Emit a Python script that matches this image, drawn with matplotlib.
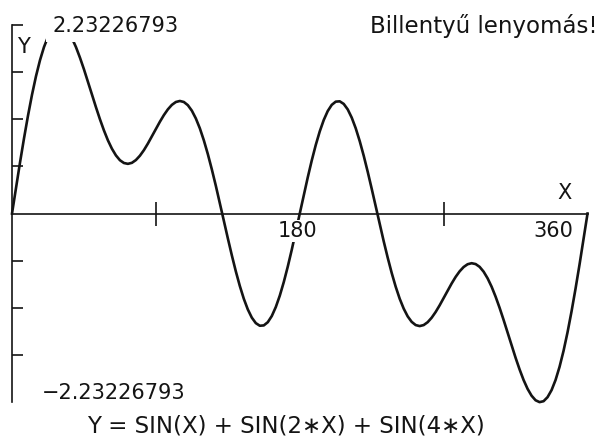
import matplotlib.pyplot as plt

# X in degrees (2.5 degree steps), Y
# Y = SIN(X) + SIN(2*X) + SIN(4*X)
x_deg = [0, 2.5, 5, 7.5, 10, 12.5, 15, 17.5, 20, 22.5, 25, 27.5, 30, 32.5, 35, 37.5,
         40, 42.5, 45, 47.5, 50, 52.5, 55, 57.5, 60, 62.5, 65, 67.5, 70, 72.5, 75, 77.5,
         80, 82.5, 85, 87.5, 90, 92.5, 95, 97.5, 100, 102.5, 105, 107.5, 110, 112.5, 115, 117.5,
         120, 122.5, 125, 127.5, 130, 132.5, 135, 137.5, 140, 142.5, 145, 147.5, 150, 152.5, 155, 157.5,
         160, 162.5, 165, 167.5, 170, 172.5, 175, 177.5, 180, 182.5, 185, 187.5, 190, 192.5, 195, 197.5,
         200, 202.5, 205, 207.5, 210, 212.5, 215, 217.5, 220, 222.5, 225, 227.5, 230, 232.5, 235, 237.5,
         240, 242.5, 245, 247.5, 250, 252.5, 255, 257.5, 260, 262.5, 265, 267.5, 270, 272.5, 275, 277.5,
         280, 282.5, 285, 287.5, 290, 292.5, 295, 297.5, 300, 302.5, 305, 307.5, 310, 312.5, 315, 317.5,
         320, 322.5, 325, 327.5, 330, 332.5, 335, 337.5, 340, 342.5, 345, 347.5, 350, 352.5, 355, 357.5,
         360]
y_val = [0.000, 0.304, 0.603, 0.889, 1.158, 1.405, 1.625, 1.814, 1.970, 2.090, 2.173, 2.221, 2.232, 2.210, 2.156, 2.075,
         1.970, 1.845, 1.707, 1.560, 1.409, 1.259, 1.116, 0.984, 0.866, 0.767, 0.688, 0.631, 0.598, 0.588, 0.600, 0.633,
         0.684, 0.750, 0.828, 0.913, 1.000, 1.086, 1.165, 1.233, 1.286, 1.320, 1.332, 1.320, 1.282, 1.217, 1.125, 1.008,
         0.866, 0.703, 0.522, 0.328, 0.123, -0.085, -0.293, -0.494, -0.684, -0.857, -1.009, -1.135, -1.232, -1.297, -1.328, -1.324,
         -1.286, -1.213, -1.107, -0.972, -0.811, -0.628, -0.428, -0.217, 0.000, 0.217, 0.428, 0.628, 0.811, 0.972, 1.107, 1.213,
         1.286, 1.324, 1.328, 1.297, 1.232, 1.135, 1.009, 0.857, 0.684, 0.494, 0.293, 0.085, -0.123, -0.328, -0.522, -0.703,
         -0.866, -1.008, -1.125, -1.217, -1.282, -1.320, -1.332, -1.320, -1.286, -1.233, -1.165, -1.086, -1.000, -0.913, -0.828, -0.750,
         -0.684, -0.633, -0.600, -0.588, -0.598, -0.631, -0.688, -0.767, -0.866, -0.984, -1.116, -1.259, -1.409, -1.560, -1.707, -1.845,
         -1.970, -2.075, -2.156, -2.210, -2.232, -2.221, -2.173, -2.090, -1.970, -1.814, -1.625, -1.405, -1.158, -0.889, -0.603, -0.304,
         0.000]

y_top_label = "2.23226793"
y_bot_label = "\u22122.23226793"
x_ticks = [90, 270]
y_ticks = [-1.674, -1.116, -0.558, 0.558, 1.116, 1.674, 2.232]
y_range = 2.232

W, H = 600, 441
ink = "#141414"
plt.rcParams['font.family'] = ['DejaVu Sans']

fig = plt.figure(figsize=(W / 100, H / 100), dpi=100)
ax = fig.add_axes([0, 0, 1, 1])
ax.set_xlim(-7.51, 367.8)
ax.set_ylim(-2.692, 2.527)

ax.plot(x_deg, y_val, color=ink, lw=1.9, solid_joinstyle='round', zorder=2)

# plotter style axes through the origin
for s in ['top', 'right']:
    ax.spines[s].set_visible(False)
ax.spines['left'].set_position(('data', 0))
ax.spines['bottom'].set_position(('data', 0))
ax.spines['left'].set_bounds(-y_range, y_range)
ax.spines['bottom'].set_bounds(0, 360)
for s in ['left', 'bottom']:
    ax.spines[s].set_color(ink)
    ax.spines[s].set_linewidth(1.2)

ax.set_xticks(x_ticks)
ax.set_yticks(y_ticks)
ax.tick_params(axis='x', direction='inout', length=17, width=1.2, color=ink, labelbottom=False)
ax.tick_params(axis='y', direction='in', length=8, width=1.2, color=ink, labelleft=False)


def label(px, py, s, size, ha='center', pad=None):
    kw = dict(facecolor='white', edgecolor='none', pad=pad) if pad is not None else None
    fig.text(px / W, 1 - py / H, s, fontsize=size, ha=ha, va='center',
             color=ink, bbox=kw, zorder=5)


label(52, 26, y_top_label, 15, ha='left', pad=4)
label(42, 393, y_bot_label, 15, ha='left')
label(23, 47, "Y", 15)
label(565, 193, "X", 15)
label(297, 231, "180", 15, pad=0.5)
label(553, 231, "360", 15)
label(598, 26, "Billenty\u0171 lenyom\u00e1s!", 16.5, ha='right')
label(286, 426, "Y = SIN(X) + SIN(2\u2217X) + SIN(4\u2217X)", 16.5)

fig.savefig("out.png", dpi=100, facecolor='white')
